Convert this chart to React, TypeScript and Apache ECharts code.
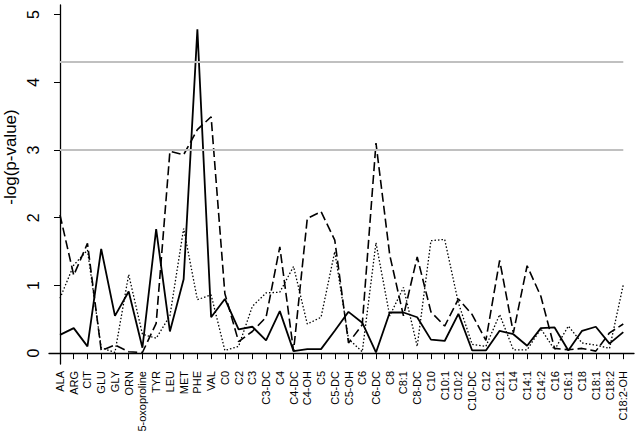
import React, { useEffect, useRef } from "react";
import * as echarts from "echarts";

const categories = [
  "ALA", "ARG", "CIT", "GLU", "GLY", "ORN", "5-oxoproline", "TYR", "LEU", "MET", "PHE", "VAL",
  "C0", "C2", "C3", "C3-DC", "C4", "C4-DC", "C4-OH", "C5", "C5-DC", "C5-OH", "C6", "C6-DC",
  "C8", "C8:1", "C8-DC", "C10", "C10:1", "C10:2", "C10-DC", "C12", "C12:1", "C14", "C14:1",
  "C14:2", "C16", "C16:1", "C18", "C18:1", "C18:2", "C18:2-OH",
];

const solidValues = [
  0.27, 0.37, 0.1, 1.54, 0.55, 0.91, 0.08, 1.83, 0.32, 1.09, 4.78, 0.53,
  0.8, 0.35, 0.39, 0.19, 0.62, 0.03, 0.06, 0.06, 0.33, 0.61, 0.45, 0.01,
  0.6, 0.6, 0.53, 0.2, 0.18, 0.58, 0.04, 0.04, 0.33, 0.28, 0.11,
  0.37, 0.38, 0.04, 0.33, 0.39, 0.14, 0.31,
];

const dashedValues = [
  2.04, 1.15, 1.62, 0.04, 0.12, 0.02, 0.01, 0.44, 2.98, 2.93, 3.3, 3.49,
  0.88, 0.17, 0.32, 0.53, 1.57, 0.03, 1.99, 2.09, 1.67, 0.15, 0.42, 3.1,
  1.45, 0.55, 1.42, 0.61, 0.4, 0.8, 0.57, 0.19, 1.37, 0.3, 1.29,
  0.84, 0.07, 0.05, 0.07, 0.03, 0.3, 0.43,
];

const dottedValues = [
  0.81, 1.3, 1.52, 0.08, 0.01, 1.16, 0.28, 0.22, 0.55, 1.84, 0.79, 0.86,
  0.04, 0.1, 0.69, 0.89, 0.9, 1.28, 0.43, 0.53, 1.5, 0.21, 0.02, 1.63,
  0.55, 0.97, 0.1, 1.66, 1.68, 0.74, 0.13, 0.1, 0.57, 0.05, 0.05,
  0.36, 0.05, 0.4, 0.15, 0.12, 0.07, 1.01,
];

const yTicks = [0, 1, 2, 3, 4, 5];
const thresholds = [3, 4.3];
const yAxisTitle = "-log(p-value)";

export default function App() {
  const ref = useRef<HTMLDivElement>(null);

  useEffect(() => {
    if (!ref.current) return;
    const chart = echarts.init(ref.current, null, { renderer: "svg" });
    const idx = categories.map((_, i) => i);
    const toPairs = (vals: number[]) => vals.map((v, i) => [i, v]);
    const lastIdx = categories.length - 1;

    const font = "Liberation Sans, Arial, sans-serif";

    chart.setOption({
      animation: false,
      backgroundColor: "#ffffff",
      grid: {
        left: 49,
        right: 5,
        top: 5,
        bottom: 68,
        containLabel: false,
        outerBoundsMode: "none",
      },
      graphic: [
        {
          type: "text",
          x: 10,
          y: 157,
          rotation: Math.PI / 2,
          style: {
            text: yAxisTitle,
            fill: "#000",
            font: `17px ${font}`,
            textAlign: "center",
            textVerticalAlign: "middle",
          },
        },
      ],
      xAxis: {
        type: "value",
        min: -0.8,
        max: 41.78,
        splitLine: { show: false },
        axisLine: { show: true, lineStyle: { color: "#000", width: 1.3 } },
        axisTick: {
          show: true,
          length: 6,
          customValues: idx,
          lineStyle: { color: "#000", width: 1 },
        },
        axisLabel: {
          customValues: idx,
          rotate: 90,
          margin: 7,
          fontSize: 11,
          fontFamily: font,
          color: "#000",
          formatter: (v: number) => categories[Math.round(v)] ?? "",
        },
      },
      yAxis: {
        type: "value",
        min: -0.16,
        max: 5.14,
        splitLine: { show: false },
        axisLine: { show: true, lineStyle: { color: "#000", width: 1.3 } },
        axisTick: {
          show: true,
          length: 6,
          customValues: yTicks,
          lineStyle: { color: "#000", width: 1 },
        },
        axisLabel: {
          customValues: yTicks,
          rotate: 90,
          margin: 8,
          fontSize: 16,
          fontFamily: font,
          color: "#000",
        },
      },
      series: [
        {
          type: "line",
          name: "solid",
          data: toPairs(solidValues),
          symbol: "none",
          lineStyle: { color: "#000", width: 1.8, type: "solid" },
          markLine: {
            silent: true,
            symbol: "none",
            label: { show: false },
            lineStyle: { color: "#c0c0c0", width: 2, type: "solid" },
            data: thresholds.map((t) => [
              { coord: [0, t] },
              { coord: [lastIdx, t] },
            ]),
          },
          z: 3,
        },
        {
          type: "line",
          name: "dashed",
          data: toPairs(dashedValues),
          symbol: "none",
          lineStyle: { color: "#000", width: 1.6, type: [9, 4] },
          z: 2,
        },
        {
          type: "line",
          name: "dotted",
          data: toPairs(dottedValues),
          symbol: "none",
          lineStyle: { color: "#000", width: 1.3, type: [1.5, 2] },
          z: 2,
        },
      ],
    });

    return () => chart.dispose();
  }, []);

  return (
    <div
      ref={ref}
      style={{ position: "fixed", left: 0, top: 0, width: 639, height: 432, background: "#fff" }}
    />
  );
}
